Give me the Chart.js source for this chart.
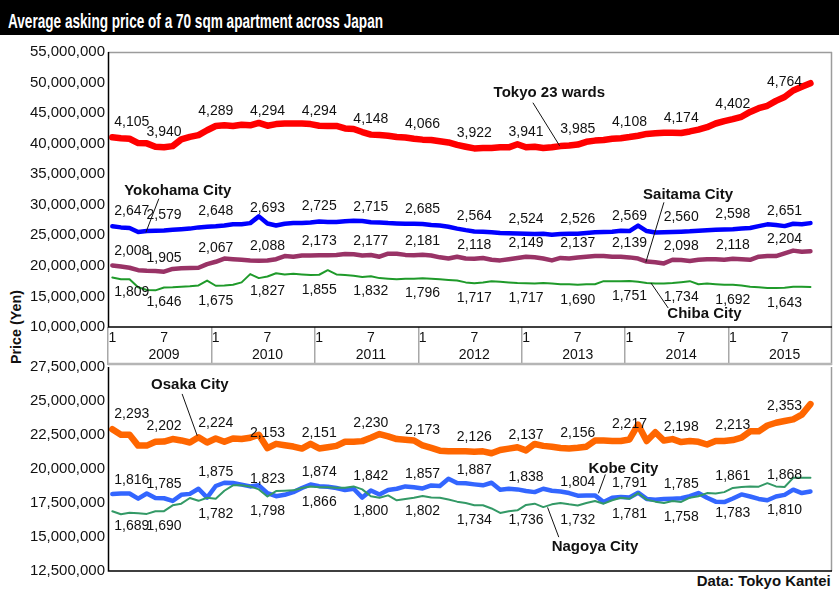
<!DOCTYPE html>
<html><head><meta charset="utf-8">
<script src="https://cdn.jsdelivr.net/npm/chart.js@4.4.1/dist/chart.umd.min.js"></script>
<style>
html,body{margin:0;padding:0;background:#fff;width:839px;height:602px;overflow:hidden;font-family:"Liberation Sans",Arial,sans-serif;}
#titlebar{position:absolute;left:0;top:0;width:839px;height:35px;background:#000;}
#title{position:absolute;left:8px;top:11px;color:#fff;font-weight:bold;font-size:20.5px;line-height:20.5px;white-space:nowrap;transform-origin:0 0;}
#ytitle{position:absolute;left:15px;top:327px;font-weight:bold;font-size:15px;line-height:15px;white-space:nowrap;color:#111;}
#source{position:absolute;top:573px;font-weight:bold;font-size:15px;line-height:15px;white-space:nowrap;color:#111;transform-origin:100% 0;}
#w1{position:absolute;left:0;top:40px;width:839px;height:330px;}
#w2{position:absolute;left:0;top:355px;width:839px;height:247px;}
</style></head>
<body>
<div id="titlebar"></div>
<div id="title">Average asking price of a 70 sqm apartment across Japan</div>
<div id="ytitle">Price (Yen)</div>
<div id="source">Data: Tokyo Kantei</div>
<div id="w1"><canvas id="c1" width="839" height="330"></canvas></div>
<div id="w2"><canvas id="c2" width="839" height="247"></canvas></div>
<script>
// ---- categories / tick labels ----
const years = ['2009','2010','2011','2012','2013','2014','2015'];
const monthTicks = ['1','','','','','','7','','','','',''];
const months = [];
years.forEach(y => monthTicks.forEach((t, i) => months.push(y + '-' + (i + 1))));

// ---- series values (10,000 yen), monthly Jan 2009 - Oct 2015 ----
const tokyo = [4105,4090,4080,4010,4005,3950,3940,3960,4070,4110,4140,4220,
  4289,4300,4290,4310,4300,4340,4294,4320,4330,4330,4330,4320,
  4294,4290,4290,4250,4240,4190,4148,4140,4130,4110,4100,4080,
  4066,4060,4040,4020,3980,3950,3922,3930,3930,3940,3940,3990,
  3941,3950,3930,3940,3960,3970,3985,4030,4050,4060,4080,4090,
  4108,4130,4160,4170,4180,4180,4174,4200,4230,4270,4330,4370,
  4402,4440,4520,4580,4620,4700,4764,4870,4930,4990];
const yokohama = [2647,2630,2620,2555,2570,2575,2579,2590,2600,2610,2630,2640,
  2648,2660,2680,2680,2700,2810,2693,2660,2690,2700,2700,2710,
  2725,2720,2720,2730,2740,2735,2715,2710,2700,2695,2690,2690,
  2685,2670,2660,2640,2610,2585,2564,2560,2550,2540,2535,2530,
  2524,2520,2525,2510,2520,2525,2526,2540,2550,2555,2560,2575,
  2569,2660,2570,2545,2550,2555,2560,2565,2575,2585,2590,2595,
  2598,2610,2620,2650,2680,2670,2651,2690,2680,2700];
const saitama = [2008,1990,1970,1930,1920,1915,1905,1950,1960,1965,1970,2030,
  2067,2120,2110,2100,2090,2085,2088,2110,2160,2150,2170,2170,
  2173,2175,2180,2195,2190,2170,2177,2150,2200,2200,2180,2175,
  2181,2170,2140,2120,2150,2120,2118,2130,2100,2090,2110,2130,
  2149,2140,2120,2090,2130,2120,2137,2150,2160,2160,2150,2150,
  2139,2120,2070,2060,2040,2100,2098,2080,2100,2110,2110,2100,
  2118,2110,2100,2150,2160,2160,2204,2250,2230,2240];
const chiba = [1809,1780,1780,1650,1605,1600,1646,1650,1660,1665,1680,1760,
  1675,1680,1690,1730,1865,1800,1827,1880,1860,1870,1860,1850,
  1855,1930,1860,1850,1840,1820,1832,1800,1790,1780,1790,1790,
  1796,1790,1780,1770,1760,1730,1717,1730,1750,1740,1730,1720,
  1717,1710,1720,1710,1700,1700,1690,1700,1700,1750,1750,1750,
  1751,1740,1720,1710,1710,1720,1734,1750,1700,1710,1700,1690,
  1692,1680,1660,1650,1640,1640,1643,1660,1660,1655];
const osaka = [2293,2252,2252,2172,2172,2200,2202,2220,2210,2195,2233,2195,
  2224,2200,2225,2220,2230,2252,2153,2185,2175,2165,2150,2185,
  2151,2160,2170,2200,2200,2205,2230,2257,2240,2220,2215,2210,
  2173,2155,2135,2130,2130,2130,2126,2130,2116,2140,2150,2160,
  2137,2184,2170,2164,2155,2150,2156,2164,2209,2209,2206,2206,
  2217,2326,2206,2270,2209,2220,2198,2206,2200,2180,2206,2206,
  2213,2230,2277,2277,2320,2340,2353,2365,2400,2477];
const kobe = [1816,1820,1820,1782,1820,1787,1785,1765,1810,1817,1855,1790,
  1875,1899,1897,1885,1872,1880,1823,1800,1810,1830,1860,1886,
  1874,1870,1860,1845,1855,1790,1842,1813,1845,1855,1872,1865,
  1857,1879,1875,1928,1897,1895,1887,1880,1899,1848,1855,1850,
  1838,1830,1855,1840,1835,1823,1804,1806,1806,1757,1789,1795,
  1791,1826,1780,1774,1780,1782,1785,1800,1823,1789,1760,1757,
  1783,1813,1798,1780,1770,1798,1810,1848,1823,1835];
const nagoya = [1689,1667,1678,1675,1670,1689,1690,1733,1745,1787,1766,1789,
  1782,1840,1880,1880,1872,1850,1798,1838,1840,1843,1860,1872,
  1866,1865,1862,1862,1872,1850,1800,1789,1806,1770,1780,1789,
  1802,1790,1789,1775,1760,1750,1734,1733,1710,1677,1690,1696,
  1736,1745,1720,1740,1750,1740,1732,1750,1765,1745,1770,1789,
  1781,1823,1775,1760,1750,1765,1758,1789,1800,1823,1820,1830,
  1861,1867,1872,1870,1896,1872,1868,1935,1935,1935];

const UNIT = 10000;
const toYen = arr => arr.map(v => v * UNIT);
const fmt = v => v.toLocaleString('en-US');
const FONT = '"Liberation Sans", Arial, sans-serif';

// ---- plugins ----
const framePlugin = {
  id: 'frame',
  afterDraw(chart, args, o) {
    const {ctx, chartArea: a} = chart;
    const xs = chart.scales.x;
    const bottomBand = o.band ? xs.bottom : a.bottom;
    ctx.save();
    ctx.strokeStyle = '#9c9c9c'; ctx.lineWidth = 1.5;
    ctx.beginPath();
    if (o.top) { ctx.moveTo(a.left, a.top + 0.5); ctx.lineTo(a.right, a.top + 0.5); }
    ctx.moveTo(a.right - 0.5, a.top); ctx.lineTo(a.right - 0.5, bottomBand);
    ctx.stroke();
    if (o.band) {
      ctx.strokeStyle = '#b5b5b5'; ctx.lineWidth = 2.5;
      ctx.beginPath(); ctx.moveTo(a.left, bottomBand - 1); ctx.lineTo(a.right, bottomBand - 1); ctx.stroke();
    }
    ctx.strokeStyle = '#000'; ctx.lineWidth = 1.5;
    ctx.beginPath();
    ctx.moveTo(a.left + 0.5, a.top); ctx.lineTo(a.left + 0.5, a.bottom);
    ctx.lineTo(a.right, a.bottom);
    ctx.stroke();
    ctx.restore();
  }
};

const labelPlugin = {
  id: 'vlabels',
  afterDatasetsDraw(chart, args, o) {
    const {ctx} = chart;
    const xs = chart.scales.x, ys = chart.scales.y;
    ctx.save();
    ctx.fillStyle = '#111';
    ctx.font = '14px ' + FONT;
    ctx.textBaseline = 'middle';
    (o.items || []).forEach(it => {
      const arr = it.values;
      for (let i = 0; i < arr.length; i += 6) {
        let above = it.pos === 'above';
        if (it.pos === 'auto') above = arr[i] >= it.other[i];
        const x = xs.getPixelForValue(i);
        const y = ys.getPixelForValue(arr[i] * UNIT) + (above ? -it.up : it.down);
        if (i === 0) { ctx.textAlign = 'left'; ctx.fillText(fmt(arr[i]), x + 2, y); }
        else { ctx.textAlign = 'center'; ctx.fillText(fmt(arr[i]), x, y); }
      }
    });
    ctx.font = 'bold 15px ' + FONT;
    ctx.textAlign = 'center';
    ctx.strokeStyle = '#111'; ctx.lineWidth = 1;
    (o.names || []).forEach(n => {
      ctx.fillText(n.text, xs.getPixelForValue(n.m), ys.getPixelForValue(n.v * 1e6));
      const L = n.leader;
      ctx.beginPath();
      ctx.moveTo(xs.getPixelForValue(L[0]), ys.getPixelForValue(L[1] * 1e6));
      ctx.lineTo(xs.getPixelForValue(L[2]), ys.getPixelForValue(L[3] * 1e6));
      ctx.stroke();
    });
    ctx.restore();
  }
};

function ds(data, color, width) {
  return { data: toYen(data), borderColor: color, borderWidth: width, pointRadius: 0,
    tension: 0, fill: false, borderJoinStyle: 'round', borderCapStyle: 'round' };
}

function yAxis(min, max, step) {
  return {
    min, max,
    ticks: { stepSize: step, color: '#111', font: { size: 15, family: FONT }, padding: 3,
      callback: v => fmt(v) },
    grid: { drawOnChartArea: false, drawTicks: false },
    border: { display: false },
    afterFit: s => { s.width = 108; }
  };
}

const common = {
  responsive: false, animation: false, events: [],
};

new Chart(document.getElementById('c1'), {
  type: 'line',
  data: { labels: months, datasets: [
    ds(chiba, '#1f9a2a', 2),
    ds(saitama, '#993366', 4.5),
    ds(yokohama, '#0000ff', 4.5),
    ds(tokyo, '#ff0000', 6.5),
  ]},
  options: {
    ...common,
    layout: { padding: { left: 0, right: 7, top: 11, bottom: 5 } },
    plugins: {
      legend: { display: false }, tooltip: { enabled: false }, title: { display: false },
      frame: { top: true, band: true },
      vlabels: {
        items: [
          { values: tokyo, pos: 'above', up: 15 },
          { values: yokohama, pos: 'above', up: 15 },
          { values: saitama, pos: 'above', up: 14 },
          { values: chiba, pos: 'below', down: 15 },
        ],
        names: [
          { text: 'Tokyo 23 wards', m: 50.7, v: 48.3, leader: [48.8, 46.7, 51.9, 39.65] },
          { text: 'Yokohama City', m: 7.6, v: 32.2, leader: [5.4, 31.0, 3.9, 25.5] },
          { text: 'Saitama City', m: 66.8, v: 31.7, leader: [64.0, 30.4, 61.9, 20.6] },
          { text: 'Chiba City', m: 68.7, v: 12.1, leader: [62.5, 17.2, 64.5, 13.1] },
        ]
      }
    },
    scales: {
      x: {
        type: 'category', offset: true,
        grid: { offset: true, drawOnChartArea: false, drawTicks: true, tickLength: 38, lineWidth: 1.5,
          color: c => (c.index % 12 === 0 ? '#a8a8a8' : 'rgba(0,0,0,0)') },
        border: { display: false },
        ticks: { autoSkip: false, maxRotation: 0, minRotation: 0, padding: -36,
          color: '#111', font: { size: 14, family: FONT, lineHeight: 1.25 },
          callback: (v, i) => {
            const m = i % 12;
            if (m === 6) return [monthTicks[m], years[Math.floor(i / 12)]];
            return monthTicks[m];
          } },
        afterFit: s => { s.height = 38; }
      },
      y: yAxis(10000000, 55000000, 5000000)
    }
  },
  plugins: [framePlugin, labelPlugin]
});

new Chart(document.getElementById('c2'), {
  type: 'line',
  data: { labels: months, datasets: [
    ds(nagoya, '#339966', 2),
    ds(kobe, '#3366ff', 4.5),
    ds(osaka, '#ff6600', 6.5),
  ]},
  options: {
    ...common,
    layout: { padding: { left: 0, right: 7, top: 11, bottom: 31 } },
    plugins: {
      legend: { display: false }, tooltip: { enabled: false }, title: { display: false },
      frame: { top: false, band: false },
      vlabels: {
        items: [
          { values: osaka, pos: 'above', up: 15 },
          { values: kobe, pos: 'auto', other: nagoya, up: 14, down: 15 },
          { values: nagoya, pos: 'auto', other: kobe, up: 12, down: 15 },
        ],
        names: [
          { text: 'Osaka City', m: 9.0, v: 26.18, leader: [8.1, 25.52, 9.85, 22.45] },
          { text: 'Kobe City', m: 59.3, v: 20.04, leader: [57.2, 19.6, 56.4, 18.21] },
          { text: 'Nagoya City', m: 56.0, v: 14.26, leader: [51.8, 14.99, 50.5, 17.18] },
        ]
      }
    },
    scales: {
      x: { type: 'category', offset: true, display: false },
      y: yAxis(12500000, 27500000, 2500000)
    }
  },
  plugins: [framePlugin, labelPlugin]
});

// ---- fit condensed text widths ----
function fitW(el, target) { return target / el.getBoundingClientRect().width; }
const t = document.getElementById('title');
t.style.transform = 'scaleX(' + fitW(t, 375) + ')';
const s = document.getElementById('source');
const ks = fitW(s, 134);
const sw = s.getBoundingClientRect().width;
s.style.left = (831 - sw) + 'px';
s.style.transform = 'scaleX(' + ks + ')';
const yt = document.getElementById('ytitle');
const ky = fitW(yt, 74);
yt.style.transform = 'translate(-50%,-50%) rotate(-90deg) scaleX(' + ky + ')';
</script>
</body></html>
